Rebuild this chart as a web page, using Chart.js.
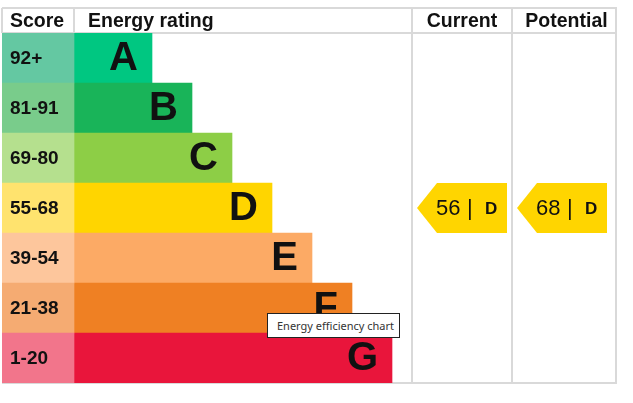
<!DOCTYPE html>
<html>
<head>
<meta charset="utf-8">
<title>Energy efficiency chart</title>
<script src="https://cdn.jsdelivr.net/npm/chart.js@4"></script>
<style>
  body { margin: 0; background: #fff; }
  #wrap { position: relative; width: 633px; height: 403px; }
  #tip {
    position: absolute; left: 267px; top: 313px; width: 133px; height: 25px;
    box-sizing: border-box; display: flex; align-items: center;
    padding: 0 0 1px 9px; border: 1px solid #222; background: #fff;
    font: 11px "Noto Sans", "DejaVu Sans", sans-serif; color: #333; white-space: nowrap;
  }
</style>
</head>
<body>
<div id="wrap">
  <canvas id="epc"></canvas>
  <div id="tip">Energy efficiency chart</div>
</div>
<script>
// data
const ratings = ['A', 'B', 'C', 'D', 'E', 'F', 'G'];
const scoreRanges = ['92+', '81-91', '69-80', '55-68', '39-54', '21-38', '1-20'];
const minScores = [92, 81, 69, 55, 39, 21, 1];
const barLengths = [1.95, 2.95, 3.95, 4.95, 5.95, 6.95, 7.95];
const currentScore = 56;
const potentialScore = 68;

const scoreColours = ['#64c8a2', '#79cc8b', '#b5e08e', '#ffe36e', '#fdc69c', '#f5ab72', '#f2758b'];
const barColours = ['#00c781', '#19b459', '#8dce46', '#ffd500', '#fcaa65', '#ef8023', '#e9153b'];

// layout in x-axis units (1 unit ~ 40px)
const SCORE_COL = 1.8;
const CURRENT_COL = 10.25;
const POTENTIAL_COL = 12.75;
const X_MAX = 15.375;
const HEADER_H = 25;
const FONT = '"Liberation Sans", Arial, sans-serif';
const GRID = '#d9d9d9';

function bandFor(score) {
  return minScores.findIndex(m => score >= m);
}

const epcPlugin = {
  id: 'epc',
  beforeDatasetsDraw(chart) {
    const { ctx, chartArea: a, scales: { x } } = chart;
    const top = a.top - HEADER_H;
    ctx.save();
    ctx.strokeStyle = GRID;
    ctx.lineWidth = 2;
    ctx.beginPath();
    // horizontal lines
    ctx.moveTo(a.left, top); ctx.lineTo(a.right, top);
    ctx.moveTo(a.left, a.top); ctx.lineTo(a.right, a.top);
    ctx.moveTo(a.left, a.bottom); ctx.lineTo(a.right, a.bottom);
    // header-only separators
    ctx.moveTo(a.left, top); ctx.lineTo(a.left, a.top);
    ctx.moveTo(x.getPixelForValue(SCORE_COL), top); ctx.lineTo(x.getPixelForValue(SCORE_COL), a.top);
    // full-height columns
    [CURRENT_COL, POTENTIAL_COL, X_MAX].forEach(v => {
      const px = Math.min(x.getPixelForValue(v), a.right - 1);
      ctx.moveTo(px, top); ctx.lineTo(px, a.bottom);
    });
    ctx.stroke();
    ctx.restore();
  },
  afterDatasetsDraw(chart) {
    const { ctx, chartArea: a, scales: { x, y } } = chart;
    const band = (a.bottom - a.top) / ratings.length;
    ctx.save();
    ctx.fillStyle = '#111';
    ctx.textBaseline = 'middle';

    // header
    const hy = a.top - HEADER_H / 2 + 1;
    ctx.font = 'bold 19.5px ' + FONT;
    ctx.textAlign = 'left';
    ctx.fillText('Score', a.left + 8, hy);
    ctx.fillText('Energy rating', x.getPixelForValue(SCORE_COL) + 14, hy);
    ctx.textAlign = 'center';
    ctx.fillText('Current', (x.getPixelForValue(CURRENT_COL) + x.getPixelForValue(POTENTIAL_COL)) / 2, hy);
    ctx.fillText('Potential', (x.getPixelForValue(POTENTIAL_COL) + a.right) / 2 + 2, hy);

    // score labels and rating letters
    ratings.forEach((r, i) => {
      const cy = y.getPixelForValue(i);
      ctx.font = 'bold 19px ' + FONT;
      ctx.textAlign = 'left';
      ctx.fillText(scoreRanges[i], a.left + 8, cy + 1);
      ctx.font = 'bold 40px ' + FONT;
      ctx.textAlign = 'right';
      ctx.fillText(r, x.getPixelForValue(SCORE_COL + barLengths[i]) - 14, cy + 1);
    });

    // current / potential pointers
    [[CURRENT_COL, currentScore], [POTENTIAL_COL, potentialScore]].forEach(([col, score]) => {
      const i = bandFor(score);
      const cy = y.getPixelForValue(i);
      const l = x.getPixelForValue(col) + 5;
      const r = l + 90;
      const t = cy - band / 2, b = cy + band / 2;
      ctx.fillStyle = barColours[i];
      ctx.beginPath();
      ctx.moveTo(l, cy);
      ctx.lineTo(l + 20, t);
      ctx.lineTo(r, t);
      ctx.lineTo(r, b);
      ctx.lineTo(l + 20, b);
      ctx.closePath();
      ctx.fill();
      ctx.fillStyle = '#111';
      ctx.textAlign = 'left';
      ctx.font = '22px ' + FONT;
      ctx.fillText(String(score), l + 19, cy + 1);
      ctx.fillText('|', l + 50, cy + 1);
      ctx.font = 'bold 17px ' + FONT;
      ctx.fillText(ratings[i], l + 68, cy + 1);
    });
    ctx.restore();
  }
};

new Chart(document.getElementById('epc'), {
  type: 'bar',
  data: {
    labels: ratings,
    datasets: [
      {
        label: 'Score',
        data: ratings.map(() => SCORE_COL),
        backgroundColor: scoreColours
      },
      {
        label: 'Energy rating',
        data: barLengths,
        backgroundColor: barColours
      }
    ]
  },
  options: {
    indexAxis: 'y',
    responsive: true,
    maintainAspectRatio: false,
    animation: false,
    layout: { padding: { top: 33, left: 2, right: 16, bottom: 20 } },
    datasets: {
      bar: { barPercentage: 1, categoryPercentage: 1, borderWidth: 0, borderSkipped: false }
    },
    scales: {
      x: { type: 'linear', min: 0, max: X_MAX, stacked: true, display: false },
      y: { stacked: true, display: false }
    },
    plugins: {
      legend: { display: false },
      tooltip: { enabled: false }
    }
  },
  plugins: [epcPlugin]
});
</script>
</body>
</html>
